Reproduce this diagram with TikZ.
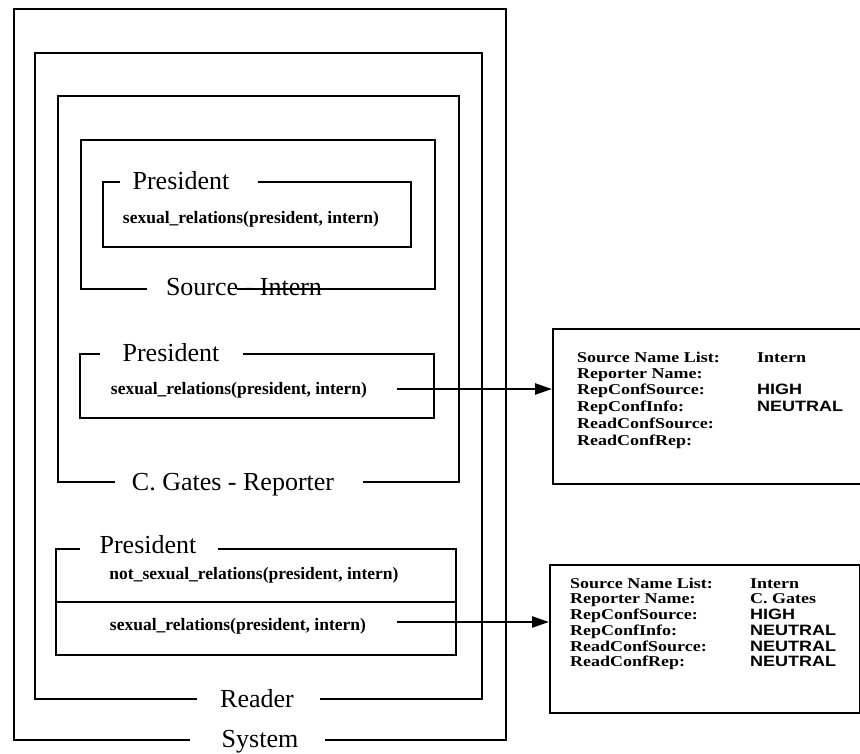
\documentclass[tikz,border=0pt]{standalone}
\usepackage{fontspec}
\usepackage{graphicx}
\setmainfont{Liberation Serif}
\newfontfamily\valfont{Liberation Sans}
\usetikzlibrary{arrows.meta}
% horizontally widened text for the attribute lists
\newcommand\widetext[1]{\scalebox{1.2}[1]{#1}}
\begin{document}
\begin{tikzpicture}[x=1pt,y=-1pt,
  frame/.style={line width=2.4pt, line join=miter},
  title/.style={font=\fontsize{26}{30}\selectfont, inner sep=0pt, anchor=base},
  fact/.style={font=\bfseries\fontsize{17.5}{20}\selectfont, inner sep=0pt, anchor=mid},
  infobox/.style={draw, line width=2.4pt, anchor=north west, inner sep=0pt, minimum width=310pt},
  key/.style={font=\bfseries\fontsize{15}{16}\selectfont, inner sep=0pt, anchor=base west},
  sval/.style={font=\bfseries\fontsize{15}{16}\selectfont, inner sep=0pt, anchor=base west},
  cval/.style={font=\valfont\bfseries\fontsize{15}{16}\selectfont, inner sep=0pt, anchor=base west},
  link/.style={line width=2.4pt, -{Triangle[length=17pt,width=11pt]}}
]
\useasboundingbox (0,0) rectangle (860,753);

% System
\draw[frame] (190,740) -- (14,740) -- (14,9) -- (506,9) -- (506,740) -- (325,740);
\node[title] (system) at (260,747) {System};

% Reader
\draw[frame] (197,699) -- (35,699) -- (35,53) -- (482,53) -- (482,699) -- (320,699);
\node[title] (reader) at (257,707) {Reader};

% Reporter
\draw[frame] (115,482) -- (58,482) -- (58,96) -- (459,96) -- (459,482) -- (363,482);
\node[title] (reporter) at (233,490) {C. Gates - Reporter};

% Source
\draw[frame] (147,289) -- (81,289) -- (81,140) -- (435,140) -- (435,289) -- (237,289);
\node[title] (source) at (244,295) {Source - Intern};

% President belief held by the source
\draw[frame] (120,182) -- (103,182) -- (103,247) -- (411,247) -- (411,182) -- (258,182);
\node[title] (pres1) at (181,189) {President};
\node[fact] (fact1) at (251,221) {sexual\_relations(president, intern)};

% President belief held by the reporter
\draw[frame] (100,354) -- (80,354) -- (80,418) -- (434,418) -- (434,354) -- (243,354);
\node[title] (pres2) at (171,361) {President};
\node[fact] (fact2) at (239,392) {sexual\_relations(president, intern)};
\coordinate (s2) at (397,389);

% President beliefs held by the reader
\draw[frame] (80,549) -- (56,549) -- (56,655) -- (456,655) -- (456,549) -- (218,549);
\draw[frame] (56,602) -- (456,602);
\node[title] (pres3) at (148,553) {President};
\node[fact] (fact3a) at (254,577) {not\_sexual\_relations(president, intern)};
\node[fact] (fact3b) at (238,628) {sexual\_relations(president, intern)};
\coordinate (s3) at (397,622);

% Attribute boxes
\node[infobox, minimum height=155pt] (info1) at (552,328) {};
\node[infobox, minimum height=148pt] (info2) at (549,564) {};

\foreach \t/\y [count=\i] in {Source Name List:/362, Reporter Name:/378, RepConfSource:/394,
    RepConfInfo:/411, ReadConfSource:/428, ReadConfRep:/445}
  \node[key] (ka\i) at (577,\y) {\widetext{\t}};
\node[sval] (va1) at (757,362) {\widetext{Intern}};
\node[cval] (va3) at (757,394) {\widetext{HIGH}};
\node[cval] (va4) at (757,411) {\widetext{NEUTRAL}};

\foreach \t/\y [count=\i] in {Source Name List:/588, Reporter Name:/603, RepConfSource:/619,
    RepConfInfo:/635, ReadConfSource:/651, ReadConfRep:/666}
  \node[key] (kb\i) at (570,\y) {\widetext{\t}};
\node[sval] (vb1) at (750,588) {\widetext{Intern}};
\node[sval] (vb2) at (750,603) {\widetext{C. Gates}};
\node[cval] (vb3) at (750,619) {\widetext{HIGH}};
\node[cval] (vb4) at (750,635) {\widetext{NEUTRAL}};
\node[cval] (vb5) at (750,651) {\widetext{NEUTRAL}};
\node[cval] (vb6) at (750,666) {\widetext{NEUTRAL}};

% Links to the attribute boxes
\draw[link] (s2) -- (s2 -| info1.west);
\draw[link] (s3) -- (s3 -| info2.west);
\end{tikzpicture}
\end{document}
